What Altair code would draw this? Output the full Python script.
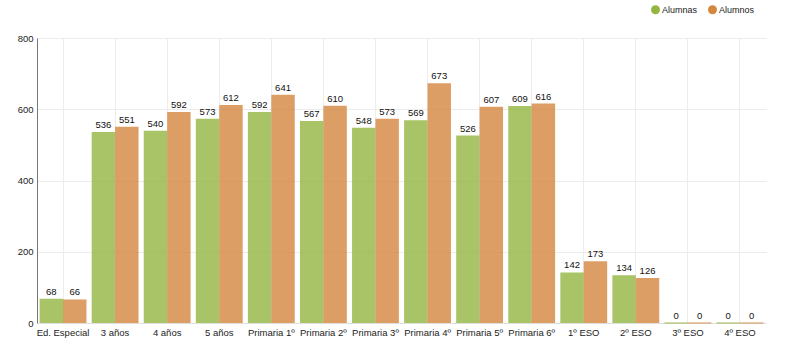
import altair as alt
import pandas as pd

categories = ["Ed. Especial", "3 años", "4 años", "5 años", "Primaria 1º", "Primaria 2º",
              "Primaria 3º", "Primaria 4º", "Primaria 5º", "Primaria 6º", "1º ESO", "2º ESO",
              "3º ESO", "4º ESO"]
alumnas = [68, 536, 540, 573, 592, 567, 548, 569, 526, 609, 142, 134, 0, 0]
alumnos = [66, 551, 592, 612, 641, 610, 573, 673, 607, 616, 173, 126, 0, 0]
series = ["Alumnas", "Alumnos"]
colors = ["#94b540", "#d3863e"]

rows = []
for c, a, o in zip(categories, alumnas, alumnos):
    rows.append({"cat": c, "serie": "Alumnas", "v": a})
    rows.append({"cat": c, "serie": "Alumnos", "v": o})
df = pd.DataFrame(rows)

FONT = "Liberation Sans"

x = alt.X("cat:N", sort=categories, title=None,
          scale=alt.Scale(paddingInner=0.1, paddingOuter=0.05),
          axis=alt.Axis(labelAngle=0, grid=True, gridColor="#ececec", ticks=False,
                        domainColor="#e0e0e0", labelFont=FONT, labelFontSize=9.5,
                        labelColor="#222", labelPadding=4))
y = alt.Y("v:Q", title=None, scale=alt.Scale(domain=[0, 800]),
          axis=alt.Axis(values=[0, 200, 400, 600, 800], grid=True, gridColor="#ececec",
                        ticks=False, domainColor="#777", labelFont=FONT,
                        labelFontSize=9.5, labelColor="#222", labelPadding=4))
color = alt.Color("serie:N", scale=alt.Scale(domain=series, range=colors),
                  legend=alt.Legend(title=None, orient="none", legendX=614, legendY=-33,
                                    direction="horizontal", symbolType="circle",
                                    symbolSize=80, symbolOpacity=1, symbolStrokeWidth=0,
                                    labelFont=FONT, labelFontSize=9,
                                    labelColor="#222", columnPadding=10, labelOffset=2))
xoff = alt.XOffset("serie:N", sort=series, scale=alt.Scale(paddingInner=0, paddingOuter=0))

bars = alt.Chart(df).mark_bar(opacity=0.8).encode(
    x=x, y=y, color=color, xOffset=xoff,
)
zero_bars = alt.Chart(df).transform_filter("datum.v == 0").mark_bar(
    opacity=0.6, strokeWidth=1.5).encode(
    x=alt.X("cat:N", sort=categories),
    y="v:Q",
    color=alt.Color("serie:N", legend=None),
    stroke=alt.Stroke("serie:N", scale=alt.Scale(domain=series, range=colors), legend=None),
    xOffset=xoff,
)
texts = alt.Chart(df).mark_text(dy=-7, font=FONT, fontSize=9.5, color="#111").encode(
    x=alt.X("cat:N", sort=categories),
    y="v:Q",
    xOffset=alt.XOffset("serie:N", sort=series),
    text="v:Q",
)

chart = (bars + zero_bars + texts).properties(
    width=729, height=285,
    autosize=alt.AutoSizeParams(type="none"),
    padding={"left": 37, "top": 38, "right": 34, "bottom": 30},
).configure_view(stroke=None)

chart.save("out.html", embed_options={"renderer": "svg", "actions": False})
